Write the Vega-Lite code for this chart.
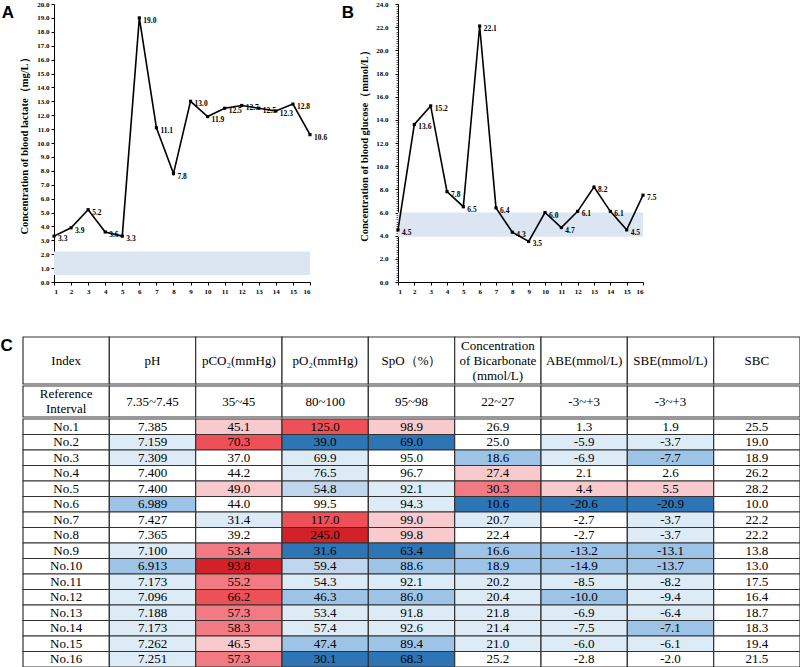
{
  "$schema": "https://vega.github.io/schema/vega-lite/v6.json",
  "padding": {"left": 0, "top": 0, "right": 0, "bottom": 0},
  "background": "white",
  "config": {
    "view": {"stroke": null},
    "axis": {"labelOverlap": false, "grid": false, "labelFont": "Liberation Serif", "labelFontWeight": "bold", "labelFontSize": 7, "labelColor": "black", "tickColor": "black", "domainColor": "black", "titleFont": "Liberation Serif", "titleFontWeight": "bold", "titleFontSize": 10.5, "titleColor": "black"},
    "locale": {"number": {"decimal": ".", "thousands": ",", "grouping": [3], "currency": ["$", ""], "minus": "-"}}
  },
  "columns": 1,
  "spacing": 42,
  "datasets": {
    "series": [
      {"t": 1, "lactate": 3.3, "glucose": 4.5},
      {"t": 2, "lactate": 3.9, "glucose": 13.6},
      {"t": 3, "lactate": 5.2, "glucose": 15.2},
      {"t": 4, "lactate": 3.6, "glucose": 7.8},
      {"t": 5, "lactate": 3.3, "glucose": 6.5},
      {"t": 6, "lactate": 19.0, "glucose": 22.1},
      {"t": 7, "lactate": 11.1, "glucose": 6.4},
      {"t": 8, "lactate": 7.8, "glucose": 4.3},
      {"t": 9, "lactate": 13.0, "glucose": 3.5},
      {"t": 10, "lactate": 11.9, "glucose": 6.0},
      {"t": 11, "lactate": 12.5, "glucose": 4.7},
      {"t": 12, "lactate": 12.7, "glucose": 6.1},
      {"t": 13, "lactate": 12.5, "glucose": 8.2},
      {"t": 14, "lactate": 12.3, "glucose": 6.1},
      {"t": 15, "lactate": 12.8, "glucose": 4.5},
      {"t": 16, "lactate": 10.6, "glucose": 7.5}
    ],
    "head": [
      {"c": "Index", "label": "Index"},
      {"c": "pH", "label": "pH"},
      {"c": "pCO2", "label": "pCO₂(mmHg)"},
      {"c": "pO2", "label": "pO₂(mmHg)"},
      {"c": "SpO", "label": "SpO（%）"},
      {"c": "HCO3", "label": "Concentration\nof Bicarbonate\n(mmol/L)"},
      {"c": "ABE", "label": "ABE(mmol/L)"},
      {"c": "SBE", "label": "SBE(mmol/L)"},
      {"c": "SBC", "label": "SBC"}
    ],
    "ref": [
      {"c": "Index", "label": "Reference\nInterval"},
      {"c": "pH", "label": "7.35~7.45"},
      {"c": "pCO2", "label": "35~45"},
      {"c": "pO2", "label": "80~100"},
      {"c": "SpO", "label": "95~98"},
      {"c": "HCO3", "label": "22~27"},
      {"c": "ABE", "label": "-3~+3"},
      {"c": "SBE", "label": "-3~+3"},
      {"c": "SBC", "label": ""}
    ],
    "cells": [
      {"r": "No.1", "c": "Index", "l": "z"},
      {"r": "No.1", "c": "pH", "v": 7.385, "l": "z"},
      {"r": "No.1", "c": "pCO2", "v": 45.1, "l": "p1"},
      {"r": "No.1", "c": "pO2", "v": 125.0, "l": "p3"},
      {"r": "No.1", "c": "SpO", "v": 98.9, "l": "p1"},
      {"r": "No.1", "c": "HCO3", "v": 26.9, "l": "z"},
      {"r": "No.1", "c": "ABE", "v": 1.3, "l": "z"},
      {"r": "No.1", "c": "SBE", "v": 1.9, "l": "z"},
      {"r": "No.1", "c": "SBC", "v": 25.5, "l": "z"},
      {"r": "No.2", "c": "Index", "l": "z"},
      {"r": "No.2", "c": "pH", "v": 7.159, "l": "n1"},
      {"r": "No.2", "c": "pCO2", "v": 70.3, "l": "p3"},
      {"r": "No.2", "c": "pO2", "v": 39.0, "l": "n3"},
      {"r": "No.2", "c": "SpO", "v": 69.0, "l": "n3"},
      {"r": "No.2", "c": "HCO3", "v": 25.0, "l": "z"},
      {"r": "No.2", "c": "ABE", "v": -5.9, "l": "n1"},
      {"r": "No.2", "c": "SBE", "v": -3.7, "l": "n1"},
      {"r": "No.2", "c": "SBC", "v": 19.0, "l": "z"},
      {"r": "No.3", "c": "Index", "l": "z"},
      {"r": "No.3", "c": "pH", "v": 7.309, "l": "n1"},
      {"r": "No.3", "c": "pCO2", "v": 37.0, "l": "z"},
      {"r": "No.3", "c": "pO2", "v": 69.9, "l": "n1"},
      {"r": "No.3", "c": "SpO", "v": 95.0, "l": "z"},
      {"r": "No.3", "c": "HCO3", "v": 18.6, "l": "n2"},
      {"r": "No.3", "c": "ABE", "v": -6.9, "l": "n1"},
      {"r": "No.3", "c": "SBE", "v": -7.7, "l": "n2"},
      {"r": "No.3", "c": "SBC", "v": 18.9, "l": "z"},
      {"r": "No.4", "c": "Index", "l": "z"},
      {"r": "No.4", "c": "pH", "v": 7.400, "l": "z"},
      {"r": "No.4", "c": "pCO2", "v": 44.2, "l": "z"},
      {"r": "No.4", "c": "pO2", "v": 76.5, "l": "n1"},
      {"r": "No.4", "c": "SpO", "v": 96.7, "l": "z"},
      {"r": "No.4", "c": "HCO3", "v": 27.4, "l": "p1"},
      {"r": "No.4", "c": "ABE", "v": 2.1, "l": "z"},
      {"r": "No.4", "c": "SBE", "v": 2.6, "l": "z"},
      {"r": "No.4", "c": "SBC", "v": 26.2, "l": "z"},
      {"r": "No.5", "c": "Index", "l": "z"},
      {"r": "No.5", "c": "pH", "v": 7.400, "l": "z"},
      {"r": "No.5", "c": "pCO2", "v": 49.0, "l": "p1"},
      {"r": "No.5", "c": "pO2", "v": 54.8, "l": "n15"},
      {"r": "No.5", "c": "SpO", "v": 92.1, "l": "n1"},
      {"r": "No.5", "c": "HCO3", "v": 30.3, "l": "p2"},
      {"r": "No.5", "c": "ABE", "v": 4.4, "l": "p1"},
      {"r": "No.5", "c": "SBE", "v": 5.5, "l": "p1"},
      {"r": "No.5", "c": "SBC", "v": 28.2, "l": "z"},
      {"r": "No.6", "c": "Index", "l": "z"},
      {"r": "No.6", "c": "pH", "v": 6.989, "l": "n2"},
      {"r": "No.6", "c": "pCO2", "v": 44.0, "l": "z"},
      {"r": "No.6", "c": "pO2", "v": 99.5, "l": "z"},
      {"r": "No.6", "c": "SpO", "v": 94.3, "l": "n1"},
      {"r": "No.6", "c": "HCO3", "v": 10.6, "l": "n3"},
      {"r": "No.6", "c": "ABE", "v": -20.6, "l": "n3"},
      {"r": "No.6", "c": "SBE", "v": -20.9, "l": "n3"},
      {"r": "No.6", "c": "SBC", "v": 10.0, "l": "z"},
      {"r": "No.7", "c": "Index", "l": "z"},
      {"r": "No.7", "c": "pH", "v": 7.427, "l": "z"},
      {"r": "No.7", "c": "pCO2", "v": 31.4, "l": "n1"},
      {"r": "No.7", "c": "pO2", "v": 117.0, "l": "p3"},
      {"r": "No.7", "c": "SpO", "v": 99.0, "l": "p1"},
      {"r": "No.7", "c": "HCO3", "v": 20.7, "l": "n1"},
      {"r": "No.7", "c": "ABE", "v": -2.7, "l": "z"},
      {"r": "No.7", "c": "SBE", "v": -3.7, "l": "n1"},
      {"r": "No.7", "c": "SBC", "v": 22.2, "l": "z"},
      {"r": "No.8", "c": "Index", "l": "z"},
      {"r": "No.8", "c": "pH", "v": 7.365, "l": "z"},
      {"r": "No.8", "c": "pCO2", "v": 39.2, "l": "z"},
      {"r": "No.8", "c": "pO2", "v": 245.0, "l": "p4"},
      {"r": "No.8", "c": "SpO", "v": 99.8, "l": "p1"},
      {"r": "No.8", "c": "HCO3", "v": 22.4, "l": "z"},
      {"r": "No.8", "c": "ABE", "v": -2.7, "l": "z"},
      {"r": "No.8", "c": "SBE", "v": -3.7, "l": "n1"},
      {"r": "No.8", "c": "SBC", "v": 22.2, "l": "z"},
      {"r": "No.9", "c": "Index", "l": "z"},
      {"r": "No.9", "c": "pH", "v": 7.100, "l": "n1"},
      {"r": "No.9", "c": "pCO2", "v": 53.4, "l": "p2"},
      {"r": "No.9", "c": "pO2", "v": 31.6, "l": "n3"},
      {"r": "No.9", "c": "SpO", "v": 63.4, "l": "n3"},
      {"r": "No.9", "c": "HCO3", "v": 16.6, "l": "n2"},
      {"r": "No.9", "c": "ABE", "v": -13.2, "l": "n2"},
      {"r": "No.9", "c": "SBE", "v": -13.1, "l": "n2"},
      {"r": "No.9", "c": "SBC", "v": 13.8, "l": "z"},
      {"r": "No.10", "c": "Index", "l": "z"},
      {"r": "No.10", "c": "pH", "v": 6.913, "l": "n2"},
      {"r": "No.10", "c": "pCO2", "v": 93.8, "l": "p4"},
      {"r": "No.10", "c": "pO2", "v": 59.4, "l": "n15"},
      {"r": "No.10", "c": "SpO", "v": 88.6, "l": "n2"},
      {"r": "No.10", "c": "HCO3", "v": 18.9, "l": "n2"},
      {"r": "No.10", "c": "ABE", "v": -14.9, "l": "n2"},
      {"r": "No.10", "c": "SBE", "v": -13.7, "l": "n2"},
      {"r": "No.10", "c": "SBC", "v": 13.0, "l": "z"},
      {"r": "No.11", "c": "Index", "l": "z"},
      {"r": "No.11", "c": "pH", "v": 7.173, "l": "n1"},
      {"r": "No.11", "c": "pCO2", "v": 55.2, "l": "p2"},
      {"r": "No.11", "c": "pO2", "v": 54.3, "l": "n1"},
      {"r": "No.11", "c": "SpO", "v": 92.1, "l": "n1"},
      {"r": "No.11", "c": "HCO3", "v": 20.2, "l": "n1"},
      {"r": "No.11", "c": "ABE", "v": -8.5, "l": "n1"},
      {"r": "No.11", "c": "SBE", "v": -8.2, "l": "n1"},
      {"r": "No.11", "c": "SBC", "v": 17.5, "l": "z"},
      {"r": "No.12", "c": "Index", "l": "z"},
      {"r": "No.12", "c": "pH", "v": 7.096, "l": "n1"},
      {"r": "No.12", "c": "pCO2", "v": 66.2, "l": "p3"},
      {"r": "No.12", "c": "pO2", "v": 46.3, "l": "n2"},
      {"r": "No.12", "c": "SpO", "v": 86.0, "l": "n2"},
      {"r": "No.12", "c": "HCO3", "v": 20.4, "l": "n1"},
      {"r": "No.12", "c": "ABE", "v": -10.0, "l": "n2"},
      {"r": "No.12", "c": "SBE", "v": -9.4, "l": "n1"},
      {"r": "No.12", "c": "SBC", "v": 16.4, "l": "z"},
      {"r": "No.13", "c": "Index", "l": "z"},
      {"r": "No.13", "c": "pH", "v": 7.188, "l": "n1"},
      {"r": "No.13", "c": "pCO2", "v": 57.3, "l": "p2"},
      {"r": "No.13", "c": "pO2", "v": 53.4, "l": "n1"},
      {"r": "No.13", "c": "SpO", "v": 91.8, "l": "n1"},
      {"r": "No.13", "c": "HCO3", "v": 21.8, "l": "n1"},
      {"r": "No.13", "c": "ABE", "v": -6.9, "l": "n1"},
      {"r": "No.13", "c": "SBE", "v": -6.4, "l": "n1"},
      {"r": "No.13", "c": "SBC", "v": 18.7, "l": "z"},
      {"r": "No.14", "c": "Index", "l": "z"},
      {"r": "No.14", "c": "pH", "v": 7.173, "l": "n1"},
      {"r": "No.14", "c": "pCO2", "v": 58.3, "l": "p2"},
      {"r": "No.14", "c": "pO2", "v": 57.4, "l": "n1"},
      {"r": "No.14", "c": "SpO", "v": 92.6, "l": "n1"},
      {"r": "No.14", "c": "HCO3", "v": 21.4, "l": "n1"},
      {"r": "No.14", "c": "ABE", "v": -7.5, "l": "n1"},
      {"r": "No.14", "c": "SBE", "v": -7.1, "l": "n2"},
      {"r": "No.14", "c": "SBC", "v": 18.3, "l": "z"},
      {"r": "No.15", "c": "Index", "l": "z"},
      {"r": "No.15", "c": "pH", "v": 7.262, "l": "n1"},
      {"r": "No.15", "c": "pCO2", "v": 46.5, "l": "p1"},
      {"r": "No.15", "c": "pO2", "v": 47.4, "l": "n2"},
      {"r": "No.15", "c": "SpO", "v": 89.4, "l": "n2"},
      {"r": "No.15", "c": "HCO3", "v": 21.0, "l": "n1"},
      {"r": "No.15", "c": "ABE", "v": -6.0, "l": "n1"},
      {"r": "No.15", "c": "SBE", "v": -6.1, "l": "n1"},
      {"r": "No.15", "c": "SBC", "v": 19.4, "l": "z"},
      {"r": "No.16", "c": "Index", "l": "z"},
      {"r": "No.16", "c": "pH", "v": 7.251, "l": "n1"},
      {"r": "No.16", "c": "pCO2", "v": 57.3, "l": "p2"},
      {"r": "No.16", "c": "pO2", "v": 30.1, "l": "n3"},
      {"r": "No.16", "c": "SpO", "v": 68.3, "l": "n3"},
      {"r": "No.16", "c": "HCO3", "v": 25.2, "l": "z"},
      {"r": "No.16", "c": "ABE", "v": -2.8, "l": "z"},
      {"r": "No.16", "c": "SBE", "v": -2.0, "l": "z"},
      {"r": "No.16", "c": "SBC", "v": 21.5, "l": "z"}
    ]
  },
  "concat": [
    {
      "spacing": -23,
      "hconcat": [
        {"width": 1, "height": 1, "data": {"values": []}, "mark": "point", "encoding": {}},
        {
          "spacing": 13,
          "hconcat": [
            {
              "title": {"text": "A", "anchor": "start", "frame": "bounds", "font": "Liberation Sans", "fontSize": 17, "fontWeight": "bold", "color": "black", "offset": 0, "dx": -18, "dy": 22},
              "width": 256,
              "height": 278,
              "resolve": {"axis": {"x": "independent", "y": "independent"}},
              "layer": [
                {
                  "data": {"values": [{"lo": 0.5, "hi": 2.2}]},
                  "mark": {"type": "rect", "color": "#DCE6F3"},
                  "encoding": {
                    "x": {"datum": 1, "type": "quantitative", "scale": {"domain": [1, 16], "nice": false, "zero": false}, "axis": null},
                    "x2": {"datum": 16},
                    "y": {"field": "lo", "type": "quantitative", "axis": null},
                    "y2": {"field": "hi"}
                  }
                },
                {
                  "data": {"name": "series"},
                  "mark": {"type": "line", "color": "black", "strokeWidth": 1.6},
                  "encoding": {
                    "x": {"field": "t", "type": "quantitative", "scale": {"domain": [1, 16], "nice": false, "zero": false},
                      "axis": {"values": [1,2,3,4,5,6,7,8,9,10,11,12,13,14,15,16], "format": "d", "title": null, "labelOverlap": false, "tickSize": 3, "labelPadding": 2}},
                    "y": {"field": "lactate", "type": "quantitative", "title": "Concentration of blood lactate（mg/L）", "scale": {"domain": [0, 20], "nice": false},
                      "axis": {"values": [0,1,2,3,4,5,6,7,8,9,10,11,12,13,14,15,16,17,18,19,20], "format": ".1f", "labelOverlap": false, "tickSize": 3, "labelPadding": 2, "titlePadding": 7}}
                  }
                },
                {
                  "data": {"name": "series"},
                  "mark": {"type": "point", "shape": "square", "filled": true, "color": "black", "size": 10, "opacity": 1},
                  "encoding": {
                    "x": {"field": "t", "type": "quantitative", "axis": null},
                    "y": {"field": "lactate", "type": "quantitative", "axis": null}
                  }
                },
                {
                  "data": {"name": "series"},
                  "mark": {"type": "text", "align": "left", "baseline": "middle", "dx": 4, "dy": 3, "font": "Liberation Serif", "fontWeight": "bold", "fontSize": 7.5, "color": "black"},
                  "encoding": {
                    "x": {"field": "t", "type": "quantitative", "axis": null},
                    "y": {"field": "lactate", "type": "quantitative", "axis": null},
                    "text": {"field": "lactate", "type": "quantitative", "format": ".1f"}
                  }
                }
              ]
            },
            {
              "title": {"text": "B", "anchor": "start", "frame": "bounds", "font": "Liberation Sans", "fontSize": 17, "fontWeight": "bold", "color": "black", "offset": 0, "dx": -18, "dy": 22},
              "width": 245,
              "height": 278,
              "resolve": {"axis": {"x": "independent", "y": "independent"}},
              "layer": [
                {
                  "data": {"values": [{"lo": 3.9, "hi": 6.0}]},
                  "mark": {"type": "rect", "color": "#DCE6F3"},
                  "encoding": {
                    "x": {"datum": 1, "type": "quantitative", "scale": {"domain": [1, 16], "nice": false, "zero": false}, "axis": null},
                    "x2": {"datum": 16},
                    "y": {"field": "lo", "type": "quantitative", "title": null,
                      "axis": {"orient": "left", "values": [0,0.2,0.4,0.6,0.8,1,1.2,1.4,1.6,1.8,2,2.2,2.4,2.6,2.8,3,3.2,3.4,3.6,3.8,4,4.2,4.4,4.6,4.8,5,5.2,5.4,5.6,5.8,6,6.2,6.4,6.6,6.8,7,7.2,7.4,7.6,7.8,8,8.2,8.4,8.6,8.8,9,9.2,9.4,9.6,9.8,10,10.2,10.4,10.6,10.8,11,11.2,11.4,11.6,11.8,12,12.2,12.4,12.6,12.8,13,13.2,13.4,13.6,13.8,14,14.2,14.4,14.6,14.8,15,15.2,15.4,15.6,15.8,16,16.2,16.4,16.6,16.8,17,17.2,17.4,17.6,17.8,18,18.2,18.4,18.6,18.8,19,19.2,19.4,19.6,19.8,20,20.2,20.4,20.6,20.8,21,21.2,21.4,21.6,21.8,22,22.2,22.4,22.6,22.8,23,23.2,23.4,23.6,23.8,24], "labels": false, "domain": false, "tickSize": 2, "tickColor": "#333", "tickWidth": 0.8}},
                    "y2": {"field": "hi"}
                  }
                },
                {
                  "data": {"name": "series"},
                  "mark": {"type": "line", "color": "black", "strokeWidth": 1.6},
                  "encoding": {
                    "x": {"field": "t", "type": "quantitative", "scale": {"domain": [1, 16], "nice": false, "zero": false},
                      "axis": {"values": [1,2,3,4,5,6,7,8,9,10,11,12,13,14,15,16], "format": "d", "title": null, "labelOverlap": false, "tickSize": 3, "labelPadding": 2}},
                    "y": {"field": "glucose", "type": "quantitative", "title": "Concentration of blood glucose（mmol/L）", "scale": {"domain": [0, 24], "nice": false},
                      "axis": {"orient": "left", "values": [0,2,4,6,8,10,12,14,16,18,20,22,24], "format": ".1f", "labelOverlap": false, "tickSize": 3, "labelPadding": 7, "titlePadding": 6}}
                  }
                },
                {
                  "data": {"name": "series"},
                  "mark": {"type": "point", "shape": "square", "filled": true, "color": "black", "size": 10, "opacity": 1},
                  "encoding": {
                    "x": {"field": "t", "type": "quantitative", "axis": null},
                    "y": {"field": "glucose", "type": "quantitative", "axis": null}
                  }
                },
                {
                  "data": {"name": "series"},
                  "mark": {"type": "text", "align": "left", "baseline": "middle", "dx": 4, "dy": 3, "font": "Liberation Serif", "fontWeight": "bold", "fontSize": 7.5, "color": "black"},
                  "encoding": {
                    "x": {"field": "t", "type": "quantitative", "axis": null},
                    "y": {"field": "glucose", "type": "quantitative", "axis": null},
                    "text": {"field": "glucose", "type": "quantitative", "format": ".1f"}
                  }
                }
              ]
            }
          ]
        }
      ]
    },
    {
      "title": {"text": "C", "anchor": "start", "frame": "bounds", "font": "Liberation Sans", "fontSize": 17, "fontWeight": "bold", "color": "black", "offset": 0, "dx": -22, "dy": 19},
      "spacing": 0,
      "vconcat": [
        {
          "data": {"name": "head"},
          "width": 777,
          "height": 47,
          "encoding": {"x": {"field": "c", "type": "nominal", "sort": ["Index","pH","pCO2","pO2","SpO","HCO3","ABE","SBE","SBC"], "axis": null, "scale": {"paddingInner": 0, "paddingOuter": 0}}},
          "layer": [
            {"mark": {"type": "rect", "fill": "white", "stroke": "#333", "strokeWidth": 1.2}},
            {"transform": [{"filter": "datum.c !== 'HCO3'"}], "mark": {"type": "text", "font": "Liberation Serif", "fontSize": 13, "color": "black"}, "encoding": {"text": {"field": "label"}}},
            {"transform": [{"filter": "datum.c === 'HCO3'"}], "mark": {"type": "text", "font": "Liberation Serif", "fontSize": 13, "color": "black", "lineBreak": "\n", "lineHeight": 15, "dy": -15}, "encoding": {"text": {"field": "label"}}}
          ]
        },
        {
          "data": {"name": "ref"},
          "width": 777,
          "height": 31,
          "encoding": {"x": {"field": "c", "type": "nominal", "sort": ["Index","pH","pCO2","pO2","SpO","HCO3","ABE","SBE","SBC"], "axis": null, "scale": {"paddingInner": 0, "paddingOuter": 0}}},
          "layer": [
            {"mark": {"type": "rect", "fill": "white", "stroke": "#333", "strokeWidth": 1.2}},
            {"transform": [{"filter": "datum.c !== 'Index'"}], "mark": {"type": "text", "font": "Liberation Serif", "fontSize": 13, "color": "black"}, "encoding": {"text": {"field": "label"}}},
            {"transform": [{"filter": "datum.c === 'Index'"}], "mark": {"type": "text", "font": "Liberation Serif", "fontSize": 13, "color": "black", "lineBreak": "\n", "lineHeight": 15, "dy": -7.5}, "encoding": {"text": {"field": "label"}}}
          ]
        },
        {
          "data": {"name": "cells"},
          "width": 777,
          "height": 248,
          "encoding": {
            "x": {"field": "c", "type": "nominal", "sort": ["Index","pH","pCO2","pO2","SpO","HCO3","ABE","SBE","SBC"], "axis": null, "scale": {"paddingInner": 0, "paddingOuter": 0}},
            "y": {"field": "r", "type": "nominal", "sort": ["No.1","No.2","No.3","No.4","No.5","No.6","No.7","No.8","No.9","No.10","No.11","No.12","No.13","No.14","No.15","No.16"], "axis": null, "scale": {"paddingInner": 0, "paddingOuter": 0}}
          },
          "layer": [
            {
              "mark": {"type": "rect", "stroke": "#333", "strokeWidth": 1.2},
              "encoding": {"fill": {"field": "l", "type": "nominal", "legend": null, "scale": {"domain": ["n3","n2","n15","n1","z","p1","p2","p3","p4"], "range": ["#2E75B6","#9DC3E6","#BFD6EE","#DDEBF7","#FFFFFF","#F8C9CD","#F27B83","#EE5057","#D1222A"]}}}
            },
            {
              "transform": [{"filter": "datum.c === 'Index'"}],
              "mark": {"type": "text", "font": "Liberation Serif", "fontSize": 13, "color": "black"},
              "encoding": {"text": {"field": "r"}}
            },
            {
              "transform": [{"filter": "datum.c === 'pH'"}],
              "mark": {"type": "text", "font": "Liberation Serif", "fontSize": 13, "color": "black"},
              "encoding": {"text": {"field": "v", "type": "quantitative", "format": ".3f"}}
            },
            {
              "transform": [{"filter": "datum.c !== 'Index' && datum.c !== 'pH'"}],
              "mark": {"type": "text", "font": "Liberation Serif", "fontSize": 13, "color": "black"},
              "encoding": {"text": {"field": "v", "type": "quantitative", "format": ".1f"}}
            }
          ]
        }
      ]
    }
  ]
}
